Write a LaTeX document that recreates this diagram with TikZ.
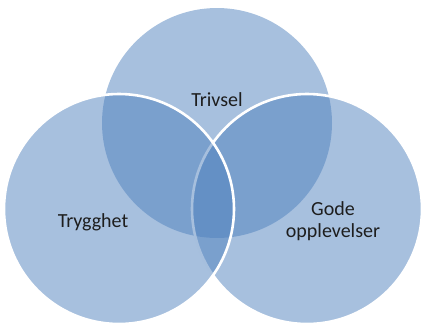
\documentclass[tikz,border=0pt]{standalone}
\usepackage{fontspec}
\setmainfont{Carlito}
\definecolor{venn}{HTML}{4F81BD}
\definecolor{txt}{HTML}{1E1E1E}
\begin{document}
\begin{tikzpicture}[x=1pt,y=-1pt,
  vcirc/.style={circle, inner sep=0pt, outer sep=0pt, minimum size=230pt, fill=venn, fill opacity=0.5},
  vline/.style={draw=white, draw opacity=1, line width=2.6pt},
  lbl/.style={text=txt, font=\fontsize{20}{22}\selectfont, inner sep=0pt, align=center}]
\useasboundingbox (0,0) rectangle (421,325);
\node[vcirc] (ctop) at (217,123) {};
\node[vcirc, vline] (cright) at (307,209) {};
\node[vcirc, vline] (cleft) at (119,209) {};
\node[lbl, anchor=base] (ltop) at (217,106) {Trivsel};
\node[lbl, anchor=base] (lleft) at (93,227) {Trygghet};
\node[lbl, anchor=base] (lright1) at (333,215) {Gode};
\node[lbl, anchor=base] (lright2) at (333,237) {opplevelser};
\end{tikzpicture}
\end{document}
